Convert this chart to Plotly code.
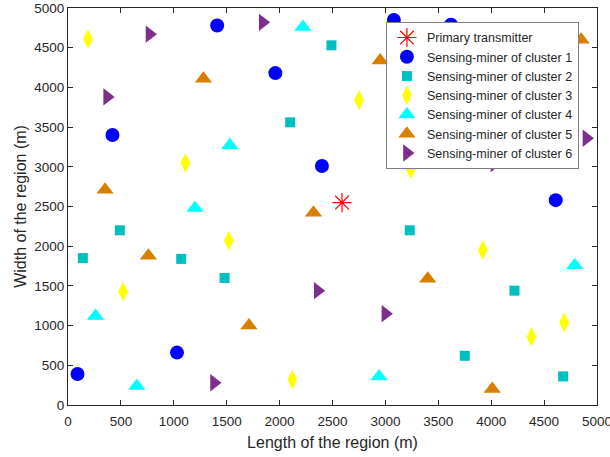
import plotly.graph_objects as go

# Primary transmitter
tx_x = [2590]
tx_y = [2550]

c1_x = [90, 420, 1410, 1960, 2400, 1030, 3080, 3620, 4610]
c1_y = [390, 3400, 4780, 4180, 3010, 660, 4850, 4790, 2580]

c2_x = [2490, 2100, 140, 490, 1070, 1480, 3230, 3750, 4220, 4680]
c2_y = [4530, 3560, 1850, 2200, 1840, 1600, 2200, 620, 1440, 360]

c3_x = [190, 2750, 1110, 3240, 1520, 520, 2120, 3920, 4380, 4690]
c3_y = [4610, 3840, 3050, 2970, 2070, 1430, 320, 1950, 860, 1040]

c4_x = [2220, 1530, 1200, 260, 650, 2940, 4790]
c4_y = [4760, 3270, 2480, 1120, 240, 360, 1760]

c5_x = [2950, 1280, 350, 2320, 760, 1710, 3400, 4010, 4850]
c5_y = [4340, 4110, 2710, 2420, 1880, 1000, 1590, 200, 4600]

c6_x = [770, 1840, 370, 2360, 1380, 3000, 4030, 4900]
c6_y = [4670, 4820, 3880, 1440, 280, 1150, 3040, 3360]

x_ticks = [0, 500, 1000, 1500, 2000, 2500, 3000, 3500, 4000, 4500, 5000]
y_ticks = [0, 500, 1000, 1500, 2000, 2500, 3000, 3500, 4000, 4500, 5000]

fig = go.Figure()

fig.add_trace(go.Scatter(x=tx_x, y=tx_y, mode="markers", name="Primary transmitter",
                         marker=dict(symbol="asterisk-open", size=16, color="#FF0000",
                                     line=dict(color="#FF0000", width=1.2))))
fig.add_trace(go.Scatter(x=c1_x, y=c1_y, mode="markers", name="Sensing-miner of cluster 1",
                         marker=dict(symbol="circle", size=14, color="#0000FF")))
fig.add_trace(go.Scatter(x=c2_x, y=c2_y, mode="markers", name="Sensing-miner of cluster 2",
                         marker=dict(symbol="square", size=10, color="#00BFBF")))
fig.add_trace(go.Scatter(x=c3_x, y=c3_y, mode="markers", name="Sensing-miner of cluster 3",
                         marker=dict(symbol="diamond-tall", size=14, color="#FFFF00")))
fig.add_trace(go.Scatter(x=c4_x, y=c4_y, mode="markers", name="Sensing-miner of cluster 4",
                         marker=dict(symbol="triangle-up", size=15, color="#00FFFF")))
fig.add_trace(go.Scatter(x=c5_x, y=c5_y, mode="markers", name="Sensing-miner of cluster 5",
                         marker=dict(symbol="triangle-up", size=15, color="#D97F00")))
fig.add_trace(go.Scatter(x=c6_x, y=c6_y, mode="markers", name="Sensing-miner of cluster 6",
                         marker=dict(symbol="triangle-right", size=15, color="#7E2F8E")))

axis_common = dict(showline=True, linecolor="#262626", linewidth=1, mirror="ticks",
                   ticks="inside", ticklen=5, tickcolor="#262626", showgrid=False,
                   zeroline=False, automargin=False, ticklabeloverflow="allow",
                   tickfont=dict(size=13.5, color="#262626"))

fig.update_xaxes(range=[0, 5000], tickvals=x_ticks, ticktext=[str(v) for v in x_ticks],
                 ticklabelstandoff=4,
                 title=dict(text="Length of the region (m)", font=dict(size=16, color="#262626"), standoff=8),
                 **axis_common)
fig.update_yaxes(range=[0, 5000], tickvals=y_ticks, ticktext=[str(v) for v in y_ticks],
                 title=dict(text="Width of the region (m)", font=dict(size=16, color="#262626"), standoff=3),
                 **axis_common)

fig.update_layout(
    width=610, height=457,
    margin=dict(l=68, r=13, t=8, b=52, autoexpand=False),
    paper_bgcolor="white", plot_bgcolor="white",
    font=dict(family="Liberation Sans, Arial, sans-serif", color="#262626"),
    showlegend=True,
    legend=dict(x=0.601, y=0.965, xanchor="left", yanchor="top",
                bgcolor="white", bordercolor="#7F7F7F", borderwidth=1,
                font=dict(size=12.5, color="#262626"), tracegroupgap=0,
                itemwidth=30),
)

fig.write_html("out.html", config={"displayModeBar": False},
               post_script="document.body.style.margin='0';document.body.style.overflow='hidden';")
